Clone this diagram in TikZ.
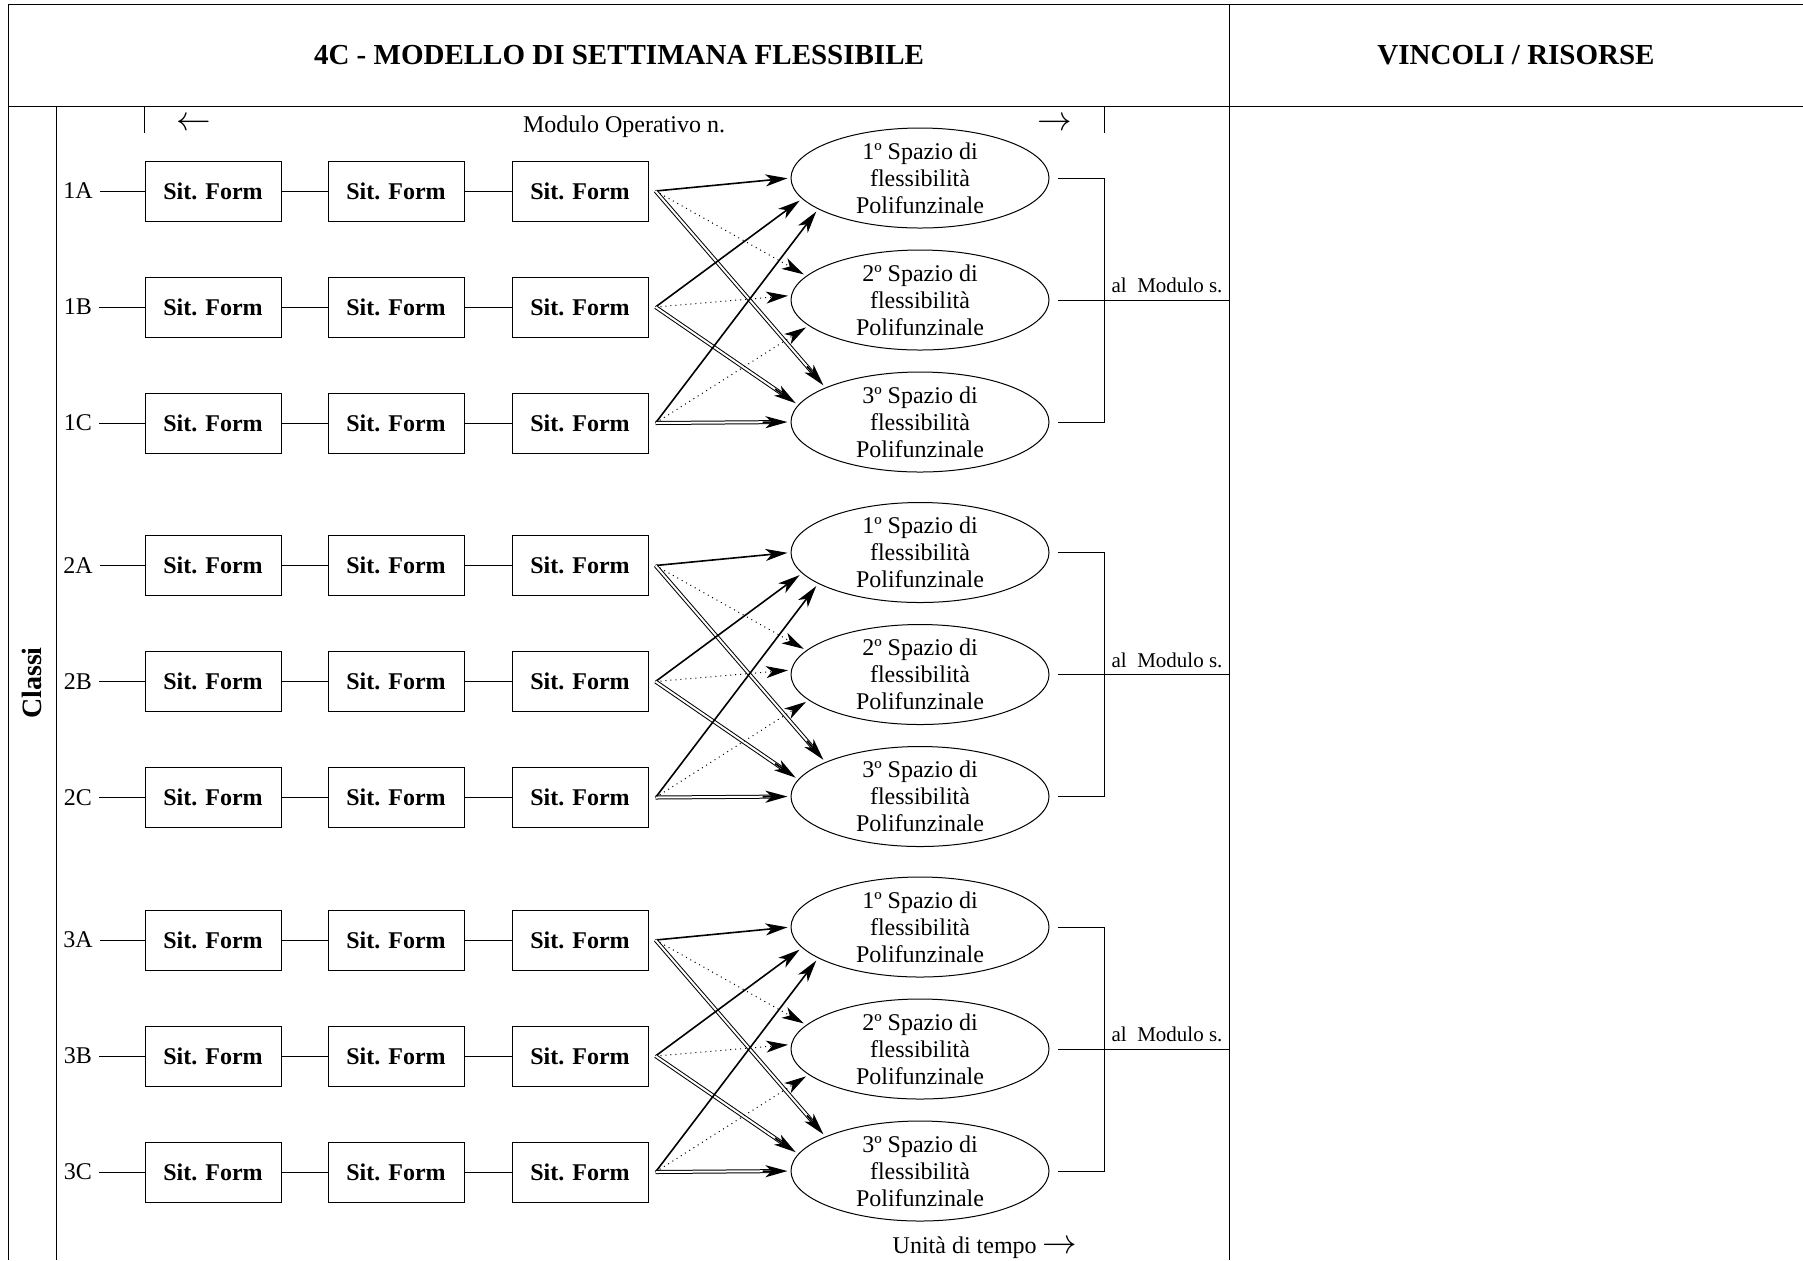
\documentclass[tikz,border=0pt]{standalone}
\usepackage{fontspec}
\setmainfont{Liberation Serif}
\usetikzlibrary{arrows.meta,shapes.geometric,calc}

\tikzset{
  sitbox/.style={draw, minimum width=68pt, minimum height=30pt, inner sep=0pt,
    font=\fontsize{12}{14}\selectfont\bfseries},
  spazio/.style={draw, ellipse, minimum width=129pt, minimum height=50pt, inner sep=0pt},
  testo/.style={font=\fontsize{12}{13.5}\selectfont, align=center},
  freccia/.style={font=\fontsize{16}{18}\selectfont},
  titolo/.style={font=\fontsize{14.5}{17}\selectfont\bfseries},
  piccolo/.style={font=\fontsize{10.5}{12}\selectfont},
  punta/.style={-{Stealth[length=11pt,width=6pt,inset=3pt]}, shorten >=1.5pt},
  pieno/.style={punta, line width=0.8pt},
  punti/.style={punta, dotted, line width=0.5pt},
  doppio/.style={double, line width=0.5pt, double distance=1pt, shorten >=10pt},
}

\begin{document}
\begin{tikzpicture}[x=0.5pt, y=-0.5pt, line width=0.5pt]
\useasboundingbox (0,0) rectangle (1803,1260);

% griglia
\draw (8,4) -- (1803,4);
\draw (8,106) -- (1803,106);
\draw (8,4) -- (8,1260);
\draw (56,106) -- (56,1260);
\draw (1229,4) -- (1229,1260);

\node[titolo] (tit) at (619,55) {4C - MODELLO DI SETTIMANA FLESSIBILE};
\node[titolo] (vinc) at (1516,55) {VINCOLI / RISORSE};
\node[font=\fontsize{14}{16}\selectfont\bfseries, rotate=90] (classi) at (32,683) {Classi};

% modulo operativo
\draw (144,106) -- (144,133);
\draw (1104,106) -- (1104,133);
\node[freccia] (sx) at (194,124) {$\leftarrow$};
\node[testo] (mod) at (624,127) {Modulo Operativo n.};
\node[freccia] (dx) at (1055,124) {$\rightarrow$};
\node[testo] (tempo) at (985,1248) {Unità di tempo {\fontsize{16}{18}\selectfont$\rightarrow$}};

\foreach \gr in {1,2,3} {
  \pgfmathsetmacro\yg{191+374.5*(\gr-1)}
  % classi e situazioni formative
  \foreach \cl [count=\r from 0] in {A,B,C} {
    \pgfmathsetmacro\yy{\yg+116*\r}
    \node[testo] (l\gr\cl) at (78,\yy) {\gr\cl};
    \node[sitbox] (f\gr\cl1) at (213,\yy) {Sit. Form};
    \node[sitbox] (f\gr\cl2) at (396,\yy) {Sit. Form};
    \node[sitbox] (f\gr\cl3) at (580,\yy) {Sit. Form};
    \draw (l\gr\cl) -- (f\gr\cl1) -- (f\gr\cl2) -- (f\gr\cl3);
    \coordinate (o\gr\cl) at ([xshift=3.5pt]f\gr\cl3.east);
  }
  % spazi di flessibilita
  \foreach \n [count=\r from 0] in {1,2,3} {
    \node[spazio, label={[testo]center:{\n{}º Spazio di\\flessibilità\\Polifunzinale}}]
      (e\gr\n) at (920,\yg-13+122*\r) {};
  }
  \foreach \cl/\p/\q/\s in {A/180/168/160, B/190/178/172, C/197/193/180} {
    \draw[pieno] (o\gr\cl) -- (e\gr1.\p);
    \draw[punti] (o\gr\cl) -- (e\gr2.\q);
    \draw[doppio] (o\gr\cl) -- (e\gr3.\s);
    \draw[pieno] ($(e\gr3.\s)!14pt!(o\gr\cl)$) -- (e\gr3.\s);
  }
  % verso il modulo successivo
  \coordinate (j\gr) at (1104,\yg+109);
  \coordinate (m\gr) at (1229,\yg+109);
  \draw ([xshift=4pt]e\gr1.east) -| (j\gr) |- ([xshift=4pt]e\gr3.east);
  \draw ([xshift=4pt]e\gr2.east) -- (m\gr);
  \node[piccolo, anchor=south] (al\gr) at (1167,\yg+109) {al~~Modulo s.};
}
\end{tikzpicture}
\end{document}
